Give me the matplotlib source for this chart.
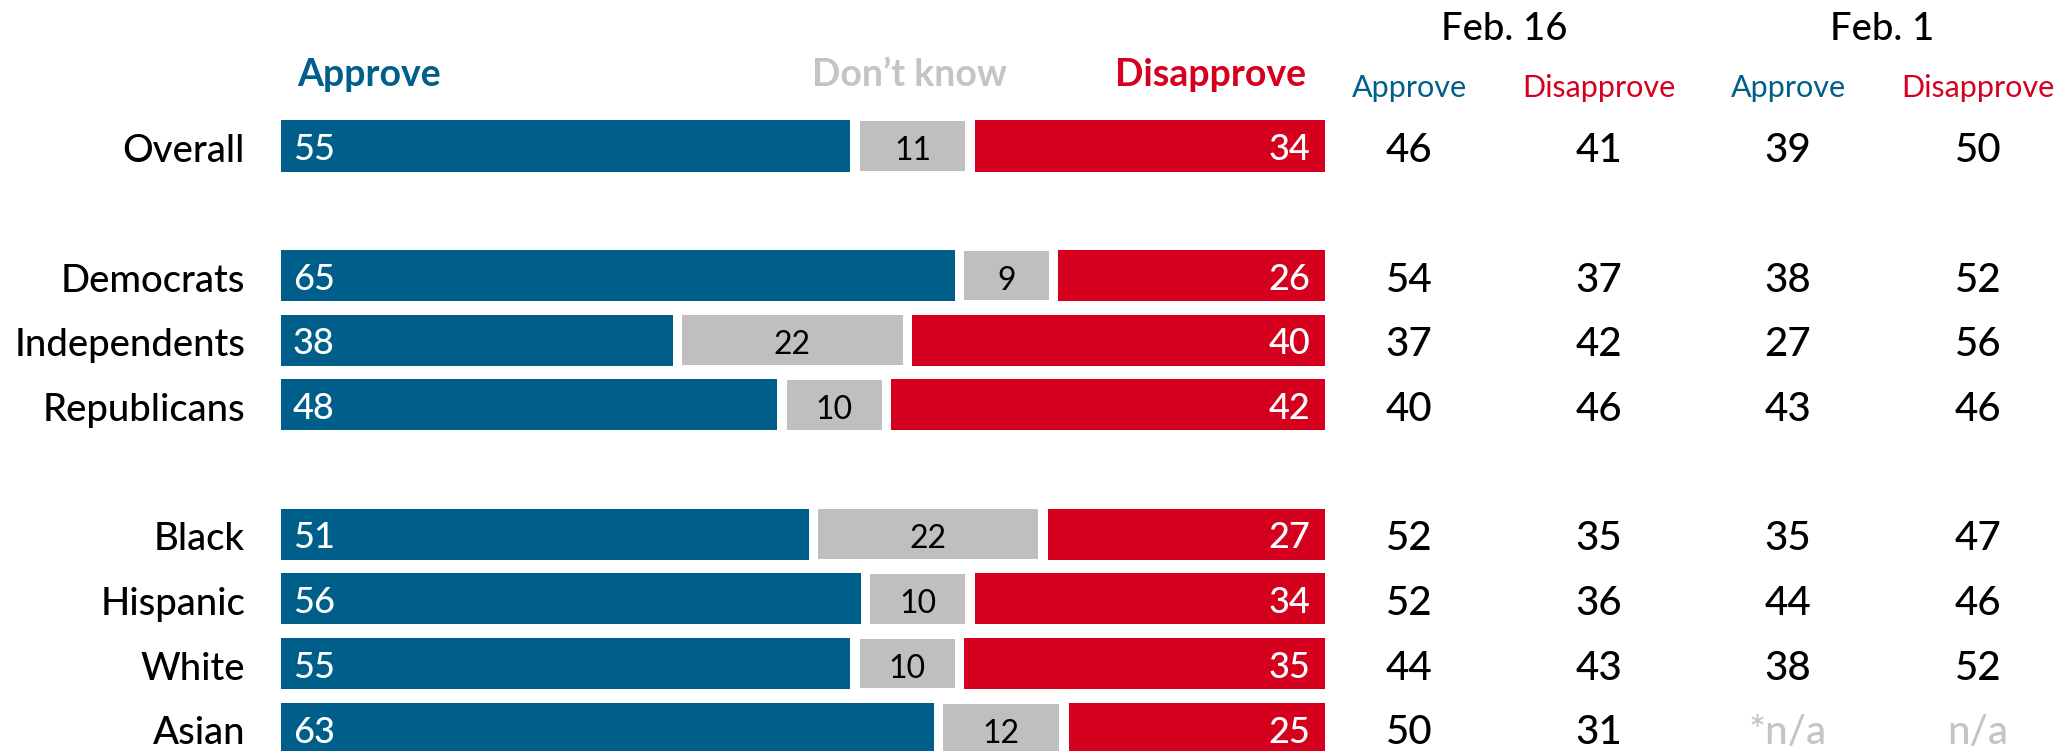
import numpy as np
import matplotlib
matplotlib.use('Agg')
import matplotlib.pyplot as plt
from matplotlib.transforms import blended_transform_factory

plt.rcParams['font.family'] = ['Lato', 'DejaVu Sans']

# data
sections = [['Overall'],
            ['Democrats', 'Independents', 'Republicans'],
            ['Black', 'Hispanic', 'White', 'Asian']]
approve = [55, 65, 38, 48, 51, 56, 55, 63]
dont_know = [11, 9, 22, 10, 22, 10, 10, 12]
disapprove = [34, 26, 40, 42, 27, 34, 35, 25]
feb16_approve = ['46', '54', '37', '40', '52', '52', '44', '50']
feb16_disapprove = ['41', '37', '42', '46', '35', '36', '43', '31']
feb1_approve = ['39', '38', '27', '43', '35', '44', '38', '*n/a']
feb1_disapprove = ['50', '52', '56', '46', '47', '46', '52', 'n/a']

BLUE = '#005f8a'
RED = '#d5001e'
GRAY = '#bfbfbf'
LIGHT = '#c4c4c4'

# row positions: one empty row between sections
groups, ypos = [], []
y = 0
for sec in sections:
    for g in sec:
        groups.append(g)
        ypos.append(y)
        y += 1
    y += 1
ypos = np.array(ypos)

W, H = 2072, 751
fig = plt.figure(figsize=(W / 100, H / 100), dpi=100)
bar_l, bar_r = 280.7, 1325
row0, step = 146, 64.7
ax = fig.add_axes([bar_l / W, 0, (bar_r - bar_l) / W, 1])
ax.set_xlim(0, 100)
ax.set_ylim((H - row0) / step, -row0 / step)
ax.axis('off')

a = np.array(approve)
d = np.array(dont_know)
r = np.array(disapprove)
bh = 0.79
g = 0.45  # white gap on each side of the middle segment
ax.barh(ypos, a - g, left=0, height=bh, color=BLUE)
ax.barh(ypos, d - 2 * g, left=a + g, height=bh * 0.97, color=GRAY)
ax.barh(ypos, r - g, left=a + d + g, height=bh, color=RED)

px = 100 / (bar_r - bar_l)
for i, yy in enumerate(ypos):
    ax.text(12 * px, yy + 0.22, str(approve[i]), color='white', fontsize=26,
            ha='left', va='baseline', fontweight='medium')
    ax.text(a[i] + d[i] / 2, yy + 0.22, str(dont_know[i]), color='black',
            fontsize=23, ha='center', va='baseline')
    ax.text(100 - 15 * px, yy + 0.22, str(disapprove[i]), color='white',
            fontsize=26, ha='right', va='baseline', fontweight='medium')

tr = blended_transform_factory(fig.transFigure, ax.transData)
for i, yy in enumerate(ypos):
    fig.text(245 / W, yy + 0.25, groups[i], transform=tr, fontsize=27.5,
             ha='right', va='baseline', fontweight='medium')

cols = [1409, 1599, 1788, 1978]
series = [feb16_approve, feb16_disapprove, feb1_approve, feb1_disapprove]
for cx, vals in zip(cols, series):
    for i, yy in enumerate(ypos):
        v = vals[i]
        c = LIGHT if 'n/a' in v else 'black'
        fig.text(cx / W, yy + 0.25, v, transform=tr, fontsize=29, color=c,
                 ha='center', va='baseline', fontweight='medium')

# headers
hy = (86 - row0) / step
fig.text(297 / W, hy, 'Approve', transform=tr, fontsize=27, color=BLUE,
         fontweight='bold', ha='left', va='baseline')
fig.text(909 / W, hy, 'Don\u2019t know', transform=tr, fontsize=27, color=LIGHT,
         fontweight='bold', ha='center', va='baseline')
fig.text(1306 / W, hy, 'Disapprove', transform=tr, fontsize=27, color=RED,
         fontweight='bold', ha='right', va='baseline')

sy = (96.7 - row0) / step
for cx, lab, c in zip(cols, ['Approve', 'Disapprove', 'Approve', 'Disapprove'],
                      [BLUE, RED, BLUE, RED]):
    fig.text(cx / W, sy, lab, transform=tr, fontsize=22, color=c,
             ha='center', va='baseline')

fy = (40 - row0) / step
fig.text(1504.7 / W, fy, 'Feb. 16', transform=tr, fontsize=27.5,
         fontweight='medium', ha='center', va='baseline')
fig.text(1882 / W, fy, 'Feb. 1', transform=tr, fontsize=27.5,
         fontweight='medium', ha='center', va='baseline')

fig.savefig('out.png', dpi=100)
